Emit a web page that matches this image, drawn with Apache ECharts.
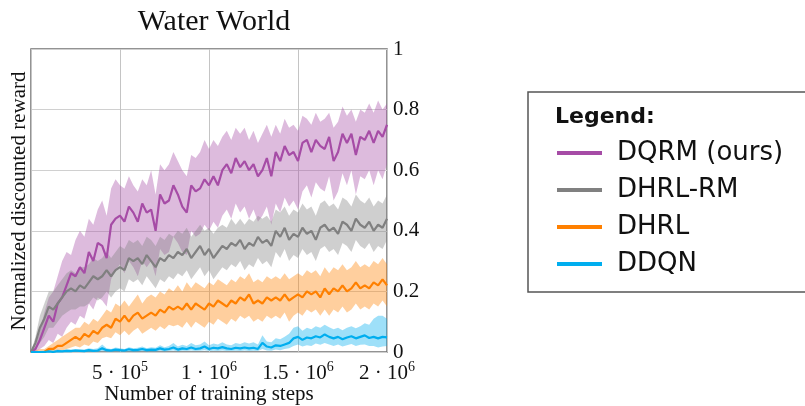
<!DOCTYPE html>
<html>
<head>
<meta charset="utf-8">
<script src="https://cdn.jsdelivr.net/npm/echarts@6/dist/echarts.min.js"></script>
<style>
  html, body { margin: 0; padding: 0; background: #fff; }
  #chart { width: 805px; height: 406px; }
</style>
</head>
<body>
<div id="chart"></div>
<script>
// one sample every 25k training steps, 0 .. 2e6
var stepSize = 25000;

var methods = ['DQRM (ours)', 'DHRL-RM', 'DHRL', 'DDQN'];
var lineColors = ['#a64ca6', '#808080', '#ff8000', '#00aeef'];

// DQRM (ours)
var dqrmMean = [0, 0.01, 0.04, 0.08, 0.12, 0.10, 0.16, 0.18, 0.22, 0.26, 0.25, 0.28, 0.26, 0.33, 0.30, 0.36, 0.35, 0.31, 0.42, 0.44,
  0.45, 0.43, 0.48, 0.46, 0.43, 0.49, 0.46, 0.47, 0.40, 0.52, 0.49, 0.50, 0.55, 0.52, 0.48, 0.46, 0.55, 0.53, 0.54, 0.57,
  0.55, 0.58, 0.55, 0.60, 0.62, 0.59, 0.64, 0.61, 0.63, 0.60, 0.62, 0.58, 0.60, 0.64, 0.58, 0.66, 0.63, 0.68, 0.65, 0.66,
  0.63, 0.69, 0.70, 0.66, 0.70, 0.68, 0.67, 0.71, 0.63, 0.66, 0.72, 0.69, 0.72, 0.65, 0.71, 0.70, 0.73, 0.69, 0.73, 0.71, 0.75];
var dqrmUpper = [0, 0.02, 0.07, 0.13, 0.18, 0.20, 0.25, 0.30, 0.33, 0.32, 0.37, 0.40, 0.38, 0.44, 0.42, 0.47, 0.50, 0.45, 0.54, 0.57,
  0.55, 0.54, 0.58, 0.55, 0.53, 0.57, 0.55, 0.60, 0.52, 0.62, 0.60, 0.62, 0.66, 0.63, 0.60, 0.58, 0.65, 0.64, 0.66, 0.70,
  0.67, 0.70, 0.68, 0.71, 0.73, 0.70, 0.74, 0.72, 0.74, 0.70, 0.73, 0.69, 0.72, 0.75, 0.71, 0.75, 0.72, 0.77, 0.74, 0.75,
  0.73, 0.78, 0.77, 0.75, 0.79, 0.76, 0.77, 0.79, 0.74, 0.76, 0.81, 0.78, 0.80, 0.76, 0.80, 0.79, 0.82, 0.79, 0.83, 0.80, 0.82];
var dqrmLower = [0, 0, 0.01, 0.02, 0.04, 0.03, 0.06, 0.05, 0.08, 0.10, 0.09, 0.12, 0.11, 0.16, 0.14, 0.18, 0.17, 0.15, 0.24, 0.27,
  0.29, 0.26, 0.30, 0.28, 0.25, 0.30, 0.28, 0.30, 0.25, 0.34, 0.32, 0.33, 0.38, 0.36, 0.33, 0.32, 0.40, 0.38, 0.39, 0.42,
  0.40, 0.43, 0.41, 0.45, 0.47, 0.44, 0.49, 0.46, 0.48, 0.44, 0.47, 0.43, 0.45, 0.48, 0.42, 0.49, 0.46, 0.51, 0.48, 0.50,
  0.47, 0.53, 0.55, 0.51, 0.56, 0.54, 0.53, 0.58, 0.50, 0.53, 0.59, 0.55, 0.60, 0.52, 0.58, 0.57, 0.60, 0.55, 0.60, 0.57, 0.62];

// DHRL-RM
var dhrlrmMean = [0, 0.03, 0.08, 0.11, 0.15, 0.14, 0.16, 0.18, 0.20, 0.21, 0.20, 0.22, 0.21, 0.23, 0.25, 0.24, 0.25, 0.27, 0.25, 0.27,
  0.28, 0.27, 0.31, 0.30, 0.31, 0.29, 0.32, 0.30, 0.28, 0.31, 0.30, 0.32, 0.31, 0.33, 0.32, 0.34, 0.31, 0.33, 0.35, 0.32,
  0.34, 0.31, 0.33, 0.35, 0.34, 0.36, 0.35, 0.37, 0.34, 0.36, 0.35, 0.38, 0.36, 0.37, 0.35, 0.40, 0.38, 0.41, 0.37, 0.39,
  0.38, 0.41, 0.39, 0.40, 0.37, 0.41, 0.42, 0.40, 0.41, 0.39, 0.43, 0.42, 0.40, 0.44, 0.42, 0.41, 0.43, 0.40, 0.42, 0.41, 0.44];
var dhrlrmUpper = [0, 0.05, 0.12, 0.16, 0.20, 0.20, 0.22, 0.24, 0.26, 0.27, 0.26, 0.28, 0.28, 0.29, 0.31, 0.30, 0.31, 0.33, 0.31, 0.33,
  0.35, 0.34, 0.37, 0.36, 0.37, 0.35, 0.38, 0.37, 0.35, 0.38, 0.37, 0.39, 0.38, 0.40, 0.39, 0.41, 0.38, 0.40, 0.42, 0.40,
  0.41, 0.39, 0.41, 0.42, 0.41, 0.44, 0.42, 0.44, 0.42, 0.44, 0.43, 0.45, 0.44, 0.45, 0.43, 0.47, 0.46, 0.48, 0.45, 0.47,
  0.46, 0.49, 0.47, 0.48, 0.45, 0.49, 0.50, 0.48, 0.49, 0.47, 0.51, 0.50, 0.48, 0.52, 0.50, 0.49, 0.51, 0.48, 0.50, 0.49, 0.52];
var dhrlrmLower = [0, 0.01, 0.03, 0.05, 0.08, 0.08, 0.10, 0.12, 0.13, 0.14, 0.14, 0.15, 0.15, 0.16, 0.18, 0.17, 0.18, 0.20, 0.18, 0.20,
  0.21, 0.20, 0.24, 0.23, 0.24, 0.22, 0.25, 0.23, 0.21, 0.24, 0.23, 0.25, 0.24, 0.26, 0.25, 0.27, 0.24, 0.26, 0.28, 0.25,
  0.27, 0.24, 0.26, 0.28, 0.27, 0.29, 0.28, 0.30, 0.27, 0.29, 0.28, 0.31, 0.29, 0.30, 0.28, 0.33, 0.31, 0.34, 0.30, 0.32,
  0.31, 0.34, 0.32, 0.33, 0.30, 0.34, 0.35, 0.33, 0.34, 0.32, 0.36, 0.35, 0.33, 0.37, 0.35, 0.34, 0.36, 0.33, 0.35, 0.34, 0.37];

// DHRL
var dhrlMean = [0, 0, 0, 0, 0.01, 0.01, 0.02, 0.02, 0.03, 0.04, 0.05, 0.04, 0.06, 0.05, 0.07, 0.06, 0.08, 0.09, 0.08, 0.11,
  0.10, 0.12, 0.10, 0.12, 0.13, 0.11, 0.12, 0.13, 0.12, 0.14, 0.13, 0.15, 0.14, 0.15, 0.14, 0.16, 0.14, 0.16, 0.15, 0.14,
  0.16, 0.15, 0.17, 0.16, 0.15, 0.17, 0.16, 0.18, 0.17, 0.19, 0.16, 0.17, 0.16, 0.18, 0.17, 0.18, 0.17, 0.19, 0.17, 0.18,
  0.19, 0.18, 0.20, 0.19, 0.20, 0.18, 0.21, 0.19, 0.21, 0.20, 0.22, 0.20, 0.21, 0.23, 0.21, 0.22, 0.21, 0.23, 0.22, 0.24, 0.22];
var dhrlUpper = [0, 0.005, 0.01, 0.01, 0.02, 0.03, 0.04, 0.05, 0.06, 0.07, 0.08, 0.08, 0.10, 0.09, 0.11, 0.10, 0.12, 0.14, 0.13, 0.16,
  0.15, 0.17, 0.15, 0.17, 0.19, 0.16, 0.18, 0.19, 0.18, 0.20, 0.19, 0.21, 0.20, 0.22, 0.20, 0.23, 0.21, 0.23, 0.22, 0.21,
  0.23, 0.22, 0.24, 0.23, 0.22, 0.24, 0.23, 0.25, 0.24, 0.26, 0.23, 0.24, 0.23, 0.25, 0.24, 0.25, 0.24, 0.26, 0.24, 0.25,
  0.26, 0.25, 0.27, 0.26, 0.27, 0.25, 0.28, 0.26, 0.28, 0.27, 0.29, 0.27, 0.28, 0.30, 0.28, 0.29, 0.28, 0.30, 0.29, 0.31, 0.29];
var dhrlLower = [0, 0, 0, 0, 0, 0, 0.005, 0.005, 0.01, 0.015, 0.02, 0.015, 0.025, 0.02, 0.035, 0.03, 0.045, 0.05, 0.045, 0.065,
  0.055, 0.07, 0.055, 0.07, 0.08, 0.06, 0.07, 0.08, 0.07, 0.085, 0.075, 0.09, 0.085, 0.09, 0.08, 0.10, 0.08, 0.10, 0.09, 0.08,
  0.10, 0.09, 0.11, 0.10, 0.09, 0.11, 0.10, 0.12, 0.11, 0.12, 0.10, 0.11, 0.10, 0.12, 0.11, 0.12, 0.11, 0.13, 0.10, 0.12,
  0.13, 0.12, 0.14, 0.13, 0.14, 0.12, 0.14, 0.12, 0.14, 0.13, 0.15, 0.13, 0.14, 0.16, 0.14, 0.15, 0.14, 0.16, 0.15, 0.17, 0.15];

// DDQN
var ddqnMean = [0, 0, 0, 0, 0.002, 0, 0.003, 0.002, 0.004, 0.003, 0.005, 0.004, 0.003, 0.006, 0.004, 0.005, 0.012, 0.006, 0.005, 0.008,
  0.006, 0.005, 0.009, 0.006, 0.007, 0.010, 0.006, 0.008, 0.007, 0.012, 0.008, 0.010, 0.015, 0.008, 0.012, 0.010, 0.015, 0.010, 0.012, 0.018,
  0.010, 0.014, 0.012, 0.016, 0.012, 0.010, 0.014, 0.012, 0.015, 0.012, 0.014, 0.010, 0.030, 0.018, 0.015, 0.022, 0.020, 0.025, 0.030, 0.045,
  0.050, 0.040, 0.048, 0.045, 0.052, 0.048, 0.058, 0.050, 0.045, 0.050, 0.042, 0.048, 0.052, 0.045, 0.050, 0.055, 0.046, 0.050, 0.045, 0.050, 0.048];
var ddqnUpper = [0, 0.002, 0.003, 0.004, 0.006, 0.005, 0.008, 0.006, 0.009, 0.008, 0.010, 0.009, 0.008, 0.012, 0.010, 0.012, 0.025, 0.012, 0.010, 0.015,
  0.012, 0.010, 0.016, 0.012, 0.014, 0.018, 0.012, 0.016, 0.014, 0.022, 0.016, 0.020, 0.030, 0.018, 0.024, 0.020, 0.030, 0.022, 0.025, 0.035,
  0.022, 0.028, 0.025, 0.032, 0.025, 0.022, 0.030, 0.026, 0.032, 0.028, 0.032, 0.025, 0.055, 0.035, 0.032, 0.045, 0.042, 0.050, 0.060, 0.080,
  0.085, 0.070, 0.080, 0.075, 0.085, 0.080, 0.090, 0.082, 0.075, 0.080, 0.072, 0.080, 0.085, 0.078, 0.085, 0.095, 0.090, 0.110, 0.120, 0.120, 0.110];
var ddqnLower = [0, 0, 0, 0, 0, 0, 0, 0, 0, 0, 0, 0, 0, 0.001, 0, 0, 0.003, 0.001, 0, 0.002,
  0.001, 0, 0.002, 0.001, 0.001, 0.003, 0.001, 0.002, 0.001, 0.004, 0.002, 0.003, 0.005, 0.002, 0.004, 0.003, 0.005, 0.003, 0.004, 0.006,
  0.003, 0.004, 0.003, 0.005, 0.003, 0.003, 0.004, 0.003, 0.005, 0.003, 0.004, 0.003, 0.010, 0.005, 0.004, 0.008, 0.006, 0.010, 0.012, 0.020,
  0.025, 0.018, 0.022, 0.020, 0.028, 0.024, 0.030, 0.025, 0.020, 0.025, 0.018, 0.022, 0.026, 0.020, 0.024, 0.025, 0.020, 0.020, 0.015, 0.018, 0.020];

var means = [dqrmMean, dhrlrmMean, dhrlMean, ddqnMean];
var uppers = [dqrmUpper, dhrlrmUpper, dhrlUpper, ddqnUpper];
var lowers = [dqrmLower, dhrlrmLower, dhrlLower, ddqnLower];

var steps = dqrmMean.map(function (v, i) { return i * stepSize; });

var serif = 'Liberation Serif';
var sans = 'DejaVu Sans';

function pairs(arr) {
    return arr.map(function (v, i) { return [steps[i], v]; });
}

// shaded band: polygon from upper curve then lower curve, through the axis scales
function bandSeries(k) {
    return {
        type: 'custom',
        name: methods[k] + ' band',
        silent: true,
        z: 1,
        data: [[0, 0]],
        renderItem: function (params, api) {
            var pts = [];
            for (var i = 0; i < steps.length; i++) pts.push(api.coord([steps[i], uppers[k][i]]));
            for (var j = steps.length - 1; j >= 0; j--) pts.push(api.coord([steps[j], lowers[k][j]]));
            return {
                type: 'polygon',
                shape: { points: pts },
                style: { fill: lineColors[k], opacity: 0.38 }
            };
        }
    };
}

var series = [];
for (var k = 0; k < methods.length; k++) series.push(bandSeries(k));
for (var k2 = 0; k2 < methods.length; k2++) {
    series.push({
        type: 'line',
        name: methods[k2],
        data: pairs(means[k2]),
        showSymbol: false,
        symbol: 'none',
        z: 3,
        color: lineColors[k2],
        lineStyle: { width: 2.2, color: lineColors[k2] }
    });
}

var chart = echarts.init(document.getElementById('chart'));
var option = {
    animation: false,
    title: [{
        text: 'Water World',
        left: 209,
        top: 2,
        textAlign: 'center',
        textStyle: { fontFamily: serif, fontWeight: 'normal', fontSize: 30, color: '#111' }
    }, {
        text: 'Legend:',
        left: 550,
        top: 101,
        textStyle: { fontFamily: sans, fontWeight: 'bold', fontSize: 22, color: '#111' }
    }],
    grid: {
        left: 31, top: 49, width: 356, height: 303,
        outerBoundsMode: 'none',
        containLabel: false,
        show: true, borderColor: '#707070', borderWidth: 1.5,
        backgroundColor: 'transparent'
    },
    legend: {
        data: methods,
        orient: 'vertical',
        left: 557,
        top: 138,
        padding: 0,
        itemWidth: 45,
        itemHeight: 4,
        itemGap: 7,
        icon: 'rect',
        textStyle: { fontFamily: sans, fontSize: 26, color: '#111', lineHeight: 30, padding: [0, 0, 0, 10] }
    },
    xAxis: {
        type: 'value',
        min: 0,
        max: 2000000,
        interval: 500000,
        name: 'Number of training steps',
        nameLocation: 'middle',
        nameGap: 32,
        nameMoveOverlap: false,
        nameTextStyle: { fontFamily: serif, fontSize: 21, color: '#111' },
        axisLine: { show: false },
        axisTick: { show: false },
        splitLine: { show: true, lineStyle: { color: '#c4c4c4', width: 1 } },
        axisLabel: {
            margin: 8,
            color: '#111',
            fontFamily: serif,
            fontSize: 21,
            formatter: function (v) {
                if (v === 0) return '';
                var e = Math.floor(Math.log10(v));
                var m = v / Math.pow(10, e);
                return m + ' \u00b7 10{sup|' + e + '}';
            },
            rich: {
                sup: { fontFamily: serif, fontSize: 14, color: '#111', verticalAlign: 'bottom', padding: [0, 0, 12, 0] }
            }
        }
    },
    yAxis: {
        type: 'value',
        position: 'right',
        min: 0,
        max: 1,
        interval: 0.2,
        axisLine: { show: false },
        axisTick: { show: false },
        splitLine: { show: true, lineStyle: { color: '#d0d0d0', width: 1 } },
        axisLabel: { margin: 6, color: '#111', fontFamily: serif, fontSize: 21 }
    },
    graphic: [{
        type: 'text',
        x: 19,
        y: 201,
        rotation: Math.PI / 2,
        style: {
            text: 'Normalized discounted reward',
            fontFamily: serif,
            fontSize: 21,
            fill: '#111',
            textAlign: 'center',
            textVerticalAlign: 'middle'
        }
    }, {
        type: 'rect',
        shape: { x: 528, y: 92, width: 300, height: 200 },
        style: { fill: 'none', stroke: '#555', lineWidth: 1.5 }
    }],
    series: series
};
chart.setOption(option);
</script>
</body>
</html>
